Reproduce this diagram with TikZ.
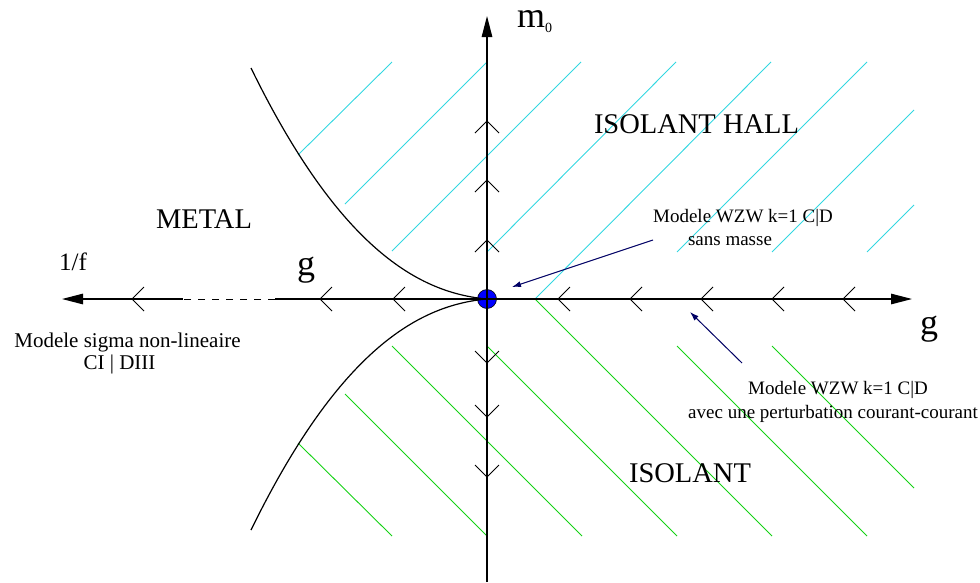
\documentclass[tikz,border=0pt]{standalone}
\usepackage{fontspec}
\setmainfont{Liberation Serif}
\usetikzlibrary{arrows.meta}
\definecolor{hallcyan}{RGB}{50,215,225}
\definecolor{isogreen}{RGB}{20,210,20}
\definecolor{navyarrow}{RGB}{0,0,100}
\definecolor{dotblue}{RGB}{0,0,255}
\begin{document}
\begin{tikzpicture}[x=1pt,y=-1pt,
  axisline/.style={line width=1.2pt, black},
  axistip/.style={-{Triangle[length=21pt,width=10.5pt]}},
  chev/.style={line width=0.8pt, black},
  hatchc/.style={hallcyan, line width=0.9pt},
  hatchg/.style={isogreen, line width=0.9pt},
  bord/.style={line width=1.2pt, black},
  ptr/.style={navyarrow, line width=1pt, -{Latex[length=9pt,width=6pt]}},
  bigtxt/.style={font=\fontsize{28.5}{30}\selectfont, anchor=base, inner sep=0pt},
  smalltxt/.style={font=\fontsize{19}{21}\selectfont, anchor=base, inner sep=0pt},
  lefttxt/.style={font=\fontsize{21}{23}\selectfont, anchor=base, inner sep=0pt},
  axlabel/.style={font=\fontsize{36}{36}\selectfont, anchor=base, inner sep=0pt}
]
\useasboundingbox (0,0) rectangle (980,582);

% key points
\coordinate (O) at (487,299);
\coordinate (cuS) at (251,68);
\coordinate (clS) at (251,530);

% cyan hatching (ISOLANT HALL)
\foreach \a/\b/\c/\d in {298/155/392/62, 345/204/487/62, 392/251/581/62, 487/252/676/62,
  535/299/771/62, 677/252/867/62, 772/252/914/110, 867/252/914/205}
  \draw[hatchc] (\a,\b) -- (\c,\d);

% green hatching (ISOLANT)
\foreach \a/\b/\c/\d in {298/443/392/536, 345/394/487/536, 392/346/582/536, 487/346/677/536,
  535/299/772/536, 677/346/867/536, 772/346/914/488}
  \draw[hatchg] (\a,\b) -- (\c,\d);

% fixed point
\filldraw[fill=dotblue, draw=black, line width=0.6pt] (O) circle[radius=9.5pt];

% axes
\coordinate (xL) at (62,299);
\coordinate (xLd) at (183,299);
\coordinate (xRd) at (275,299);
\coordinate (xR) at (912,299);
\coordinate (yB) at (487,582);
\coordinate (yT) at (487,16);
\draw[axisline,axistip] (xLd) -- (xL);
\draw[line width=1pt, dash pattern=on 7pt off 7pt] (xRd) -- (xLd);
\draw[axisline] (O) -- (xRd);
\draw[axisline,axistip] (O) -- (xR);
\draw[axisline,axistip] (yB) -- (yT);

% flow chevrons
\foreach \x in {132,320,393,558,630,701,772,843}
  \draw[chev] (\x+12,287) -- (\x,299) -- (\x+12,311);
\foreach \y in {121,180,240}
  \draw[chev] (475,\y+12) -- (487,\y) -- (499,\y+12);
\foreach \y in {363,417,477}
  \draw[chev] (475,\y-12) -- (487,\y) -- (499,\y-12);

% phase boundaries
\draw[bord] (cuS) .. controls (340,250) and (420,293) .. (O);
\draw[bord] (clS) .. controls (340,348) and (420,305) .. (O);

% axis labels
\node[axlabel, anchor=base west] (mlab) at (517,27) {m\raisebox{-5pt}{\fontsize{14}{14}\selectfont 0}};
\node[axlabel] (glab) at (306,275) {g};
\node[axlabel] (grlab) at (929,334) {g};
\node[font=\fontsize{25}{27}\selectfont, anchor=base, inner sep=0pt] (flab) at (73,270) {1/f};

% region labels
\node[bigtxt] (metal) at (204,228) {METAL};
\node[bigtxt] (hall) at (696.5,133) {ISOLANT HALL};
\node[bigtxt] (iso) at (690,482) {ISOLANT};

% annotations
\node[lefttxt] (sig1) at (127.5,347) {Modele sigma non-lineaire};
\node[lefttxt] (sig2) at (119.5,369) {CI | DIII};
\node[smalltxt] (wa1) at (743,222) {Modele WZW k=1 C|D};
\node[smalltxt] (wa2) at (730,245) {sans masse};
\node[smalltxt] (wb1) at (838,394) {Modele WZW k=1 C|D};
\node[smalltxt] (wb2) at (833,418) {avec une perturbation courant-courant};

% pointers
\coordinate (p1s) at (653,240);
\coordinate (p1e) at (512,287);
\coordinate (p2s) at (742,363);
\coordinate (p2e) at (690,312);
\draw[ptr] (p1s) -- (p1e);
\draw[ptr] (p2s) -- (p2e);
\end{tikzpicture}
\end{document}
